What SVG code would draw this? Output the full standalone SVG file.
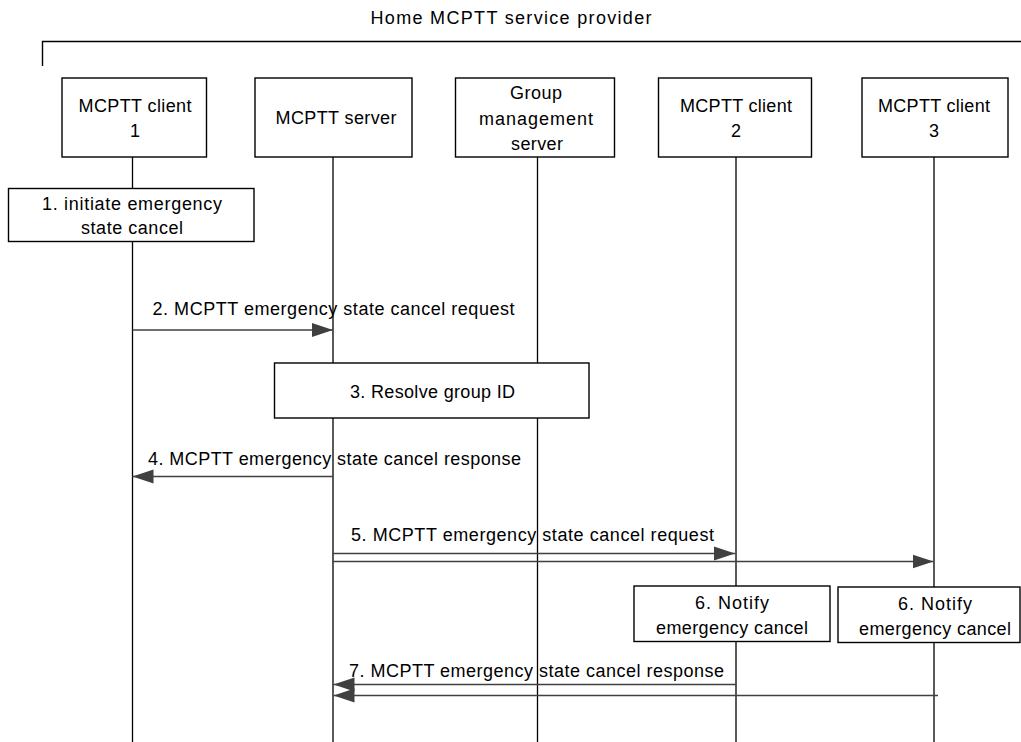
<svg xmlns="http://www.w3.org/2000/svg" width="1021" height="742" viewBox="0 0 1021 742">
<style>
  .box { fill: #fff; stroke: #000; stroke-width: 1.4; }
  .life { stroke: #000; stroke-width: 1.3; fill: none; }
  .msg { stroke: #404040; stroke-width: 1.4; fill: none; }
  text { font-family: "Liberation Sans", Arial, sans-serif; font-size: 18px; fill: #000; }
  .c { text-anchor: middle; }
</style>
<defs>
  <marker id="ah" markerUnits="userSpaceOnUse" markerWidth="22" markerHeight="16" refX="21" refY="8" orient="auto">
    <path d="M0,1 L21,8 L0,15 Z" fill="#404040"/>
  </marker>
</defs>
<rect width="1021" height="742" fill="#fff"/>

<g id="frame">
  <path d="M42.5,66 L42.5,41.5 L1021,41.5" fill="none" stroke="#000" stroke-width="1.4"/>
  <text x="511" y="24" class="c" textLength="281" lengthAdjust="spacing">Home MCPTT service provider</text>
</g>

<g id="lifelines">
  <line class="life" x1="132.5" y1="157" x2="132.5" y2="742"/>
  <line class="life" x1="333" y1="157" x2="333" y2="742"/>
  <line class="life" x1="537.5" y1="157" x2="537.5" y2="742"/>
  <line class="life" x1="736" y1="157" x2="736" y2="742"/>
  <line class="life" x1="934" y1="157" x2="934" y2="742"/>
</g>

<g id="client1">
  <rect class="box" x="62" y="78" width="144.5" height="79"/>
  <text x="135" y="112" class="c" textLength="113" lengthAdjust="spacing">MCPTT client</text>
  <text x="135" y="137" class="c">1</text>
</g>
<g id="server">
  <rect class="box" x="255" y="78" width="157" height="79"/>
  <text x="336" y="124" class="c" textLength="121" lengthAdjust="spacing">MCPTT server</text>
</g>
<g id="gms">
  <rect class="box" x="455.5" y="78" width="159" height="79"/>
  <text x="536" y="99" class="c" textLength="52" lengthAdjust="spacing">Group</text>
  <text x="536" y="125" class="c" textLength="114" lengthAdjust="spacing">management</text>
  <text x="537" y="150" class="c" textLength="52" lengthAdjust="spacing">server</text>
</g>
<g id="client2">
  <rect class="box" x="658.5" y="78" width="153" height="79"/>
  <text x="736" y="112" class="c" textLength="112" lengthAdjust="spacing">MCPTT client</text>
  <text x="736" y="137" class="c">2</text>
</g>
<g id="client3">
  <rect class="box" x="862" y="78" width="146" height="79"/>
  <text x="934" y="112" class="c" textLength="112" lengthAdjust="spacing">MCPTT client</text>
  <text x="934" y="137" class="c">3</text>
</g>

<g id="step1">
  <rect class="box" x="8.5" y="188.5" width="245.5" height="53"/>
  <text x="132" y="209.5" class="c" textLength="180" lengthAdjust="spacing">1. initiate emergency</text>
  <text x="132" y="233.5" class="c" textLength="102" lengthAdjust="spacing">state cancel</text>
</g>

<g id="step3">
  <rect class="box" x="274.5" y="363" width="314.5" height="55"/>
  <text x="432.5" y="398" class="c" textLength="165" lengthAdjust="spacing">3. Resolve group ID</text>
</g>

<g id="step6a">
  <rect class="box" x="634" y="586" width="196" height="55.5"/>
  <text x="732" y="609" class="c" textLength="74" lengthAdjust="spacing">6. Notify</text>
  <text x="732" y="633.5" class="c" textLength="152" lengthAdjust="spacing">emergency cancel</text>
</g>
<g id="step6b">
  <rect class="box" x="838" y="587" width="182" height="55.5"/>
  <text x="935" y="610" class="c" textLength="74" lengthAdjust="spacing">6. Notify</text>
  <text x="935" y="634.5" class="c" textLength="152" lengthAdjust="spacing">emergency cancel</text>
</g>

<g id="connectors">
  <line class="msg" x1="132.5" y1="330" x2="333" y2="330" marker-end="url(#ah)"/>
  <text x="152.5" y="315" textLength="362" lengthAdjust="spacing">2. MCPTT emergency state cancel request</text>

  <line class="msg" x1="333" y1="476.5" x2="132.5" y2="476.5" marker-end="url(#ah)"/>
  <text x="148" y="465" textLength="373" lengthAdjust="spacing">4. MCPTT emergency state cancel response</text>

  <line class="msg" x1="333" y1="553.5" x2="735" y2="553.5" marker-end="url(#ah)"/>
  <line class="msg" x1="333" y1="561.5" x2="933.5" y2="561.5" marker-end="url(#ah)"/>
  <text x="351" y="540.5" textLength="363" lengthAdjust="spacing">5. MCPTT emergency state cancel request</text>

  <line class="msg" x1="736" y1="684.5" x2="333.5" y2="684.5" marker-end="url(#ah)"/>
  <line class="msg" x1="938" y1="695.5" x2="333.5" y2="695.5" marker-end="url(#ah)"/>
  <text x="349" y="676.5" textLength="375" lengthAdjust="spacing">7. MCPTT emergency state cancel response</text>
</g>
</svg>
